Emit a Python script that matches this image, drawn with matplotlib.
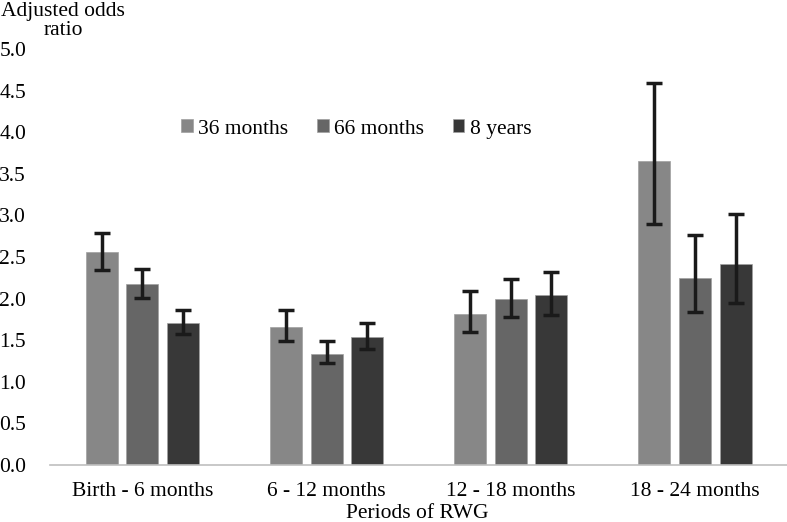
import matplotlib
matplotlib.use("Agg")
import matplotlib.pyplot as plt
import numpy as np

categories = ["Birth - 6 months", "6 - 12 months", "12 - 18 months", "18 - 24 months"]
series = ["36 months", "66 months", "8 years"]
or_36 = [2.56, 1.66, 1.82, 3.65]
or_66 = [2.17, 1.34, 2.00, 2.25]
or_8y = [1.71, 1.54, 2.04, 2.42]
lo_36 = [2.34, 1.49, 1.60, 2.90]
hi_36 = [2.79, 1.86, 2.09, 4.59]
lo_66 = [2.01, 1.22, 1.78, 1.84]
hi_66 = [2.35, 1.49, 2.24, 2.77]
lo_8y = [1.57, 1.39, 1.80, 1.95]
hi_8y = [1.86, 1.71, 2.32, 3.02]
yticks = [0.0, 0.5, 1.0, 1.5, 2.0, 2.5, 3.0, 3.5, 4.0, 4.5, 5.0]

colors = ["#878787", "#666666", "#383838"]

plt.rcParams['font.family'] = ['Liberation Serif', 'DejaVu Serif']
FS = 15.5

fig = plt.figure(figsize=(7.87, 5.22), dpi=100)
ax = fig.add_axes([50.4/787, 57/522, 1 - 50.4/787, (465-49)/522])

x = np.arange(len(categories))
width = 0.174
step = 0.221
vals = [or_36, or_66, or_8y]
los = [lo_36, lo_66, lo_8y]
his = [hi_36, hi_66, hi_8y]
for i in range(3):
    v = np.array(vals[i]); lo = np.array(los[i]); hi = np.array(his[i])
    xs = x + (i - 1) * step
    ax.bar(xs, v, width, color=colors[i], label=series[i], zorder=2,
           edgecolor="#a0a0a0", linewidth=0.5)
    ax.errorbar(xs, v, yerr=[v - lo, hi - v], fmt="none", ecolor="#1a1a1a",
                elinewidth=2.5, capsize=5.5, capthick=2.5, zorder=3)

ax.set_xlim(-0.5, 3.5)
ax.set_ylim(0, 5)
ax.set_yticks(yticks)
ax.set_yticklabels([f"{t:.1f}" for t in yticks], fontsize=FS)
ax.set_xticks(x)
ax.set_xticklabels(categories, fontsize=FS)
ax.tick_params(axis="both", length=0)
ax.tick_params(axis="y", pad=17.5)
ax.tick_params(axis="x", pad=12)
for s in ["top", "right", "left"]:
    ax.spines[s].set_visible(False)
ax.spines["bottom"].set_color("#bfbfbf")
ax.spines["bottom"].set_linewidth(1.2)

fig.text(63/787, 1 - 21/522, "Adjusted odds\nratio", ha="center", va="center",
         fontsize=FS, linespacing=1.0)
fig.text(417/787, 1 - 514/522, "Periods of RWG", ha="center", va="center", fontsize=FS)

leg = ax.legend(loc="center left", bbox_to_anchor=(170/787, 1 - 129/522),
                bbox_transform=fig.transFigure, ncol=3, frameon=False,
                fontsize=FS, handlelength=0.55, handleheight=0.55,
                handletextpad=0.25, columnspacing=1.33, borderpad=0)

fig.savefig("out.png", dpi=100)
